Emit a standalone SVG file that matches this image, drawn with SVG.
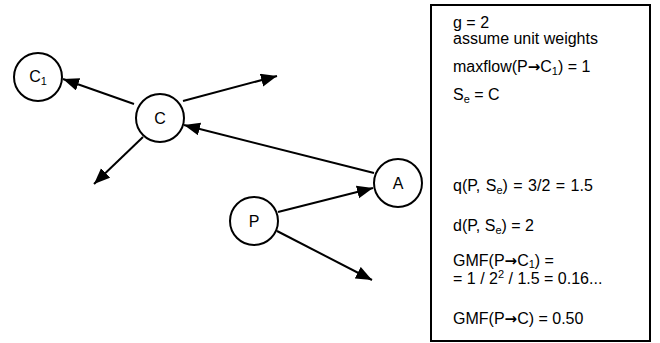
<svg xmlns="http://www.w3.org/2000/svg" width="660" height="343" viewBox="0 0 660 343">
<style>
.node circle{fill:#fff;stroke:#000;stroke-width:2}
.node text{font-family:"Liberation Sans",Arial,sans-serif;font-size:16px;fill:#000;text-anchor:middle}
.edge{stroke:#000;stroke-width:2;fill:none;marker-end:url(#ah)}
.t{font-family:"Liberation Sans",Arial,sans-serif;font-size:16px;fill:#000}
.w{word-spacing:1px}
.sub{font-size:11px}
.arr{font-family:"DejaVu Sans",sans-serif;font-weight:bold;font-size:15px}
</style>
<defs>
<marker id="ah" markerUnits="userSpaceOnUse" markerWidth="18" markerHeight="14" refX="16" refY="6.5" orient="auto">
<path d="M0,0 L16,6.5 L0,13 z" fill="#000"/>
</marker>
</defs>
<rect width="660" height="343" fill="#fff"/>
<g id="connectors">
<line class="edge" x1="134" y1="104" x2="63" y2="79"/>
<line class="edge" x1="183" y1="101" x2="277" y2="76"/>
<line class="edge" x1="143" y1="137" x2="94" y2="184"/>
<line class="edge" x1="374" y1="173" x2="184" y2="125"/>
<line class="edge" x1="278" y1="212" x2="373" y2="188"/>
<line class="edge" x1="277" y1="231" x2="372" y2="280"/>
</g>
<g id="node-C1" class="node"><circle cx="38" cy="77" r="24"/><text x="38" y="82">C<tspan class="sub" dy="3">1</tspan></text></g>
<g id="node-C" class="node"><circle cx="160" cy="118" r="24"/><text x="160" y="124">C</text></g>
<g id="node-A" class="node"><circle cx="398" cy="183" r="24"/><text x="398" y="189">A</text></g>
<g id="node-P" class="node"><circle cx="254" cy="221" r="24"/><text x="254" y="227">P</text></g>
<g id="legend">
<rect x="431" y="5" width="219" height="336" fill="#fff" stroke="#000" stroke-width="2"/>
<text class="t" x="453" y="28">g = 2</text>
<text class="t" x="453" y="44">assume unit weights</text>
<text class="t" x="453" y="72">maxflow(P<tspan class="arr">→</tspan>C<tspan class="sub" dy="3">1</tspan><tspan dy="-3">) = 1</tspan></text>
<text class="t" x="453" y="100">S<tspan class="sub" dy="3">e</tspan><tspan dy="-3"> = C</tspan></text>
<text class="t w" x="453" y="191">q(P, S<tspan class="sub" dy="3">e</tspan><tspan dy="-3">) = 3/2 = 1.5</tspan></text>
<text class="t" x="453" y="231">d(P, S<tspan class="sub" dy="3">e</tspan><tspan dy="-3">) = 2</tspan></text>
<text class="t" x="453" y="266">GMF(P<tspan class="arr">→</tspan>C<tspan class="sub" dy="2">1</tspan><tspan dy="-2">) =</tspan></text>
<text class="t" x="453" y="284">= 1 / 2<tspan class="sub" dy="-6">2</tspan><tspan dy="6"> / 1.5 = 0.16...</tspan></text>
<text class="t" x="453" y="324">GMF(P<tspan class="arr">→</tspan>C)  = 0.50</text>
</g>
</svg>
